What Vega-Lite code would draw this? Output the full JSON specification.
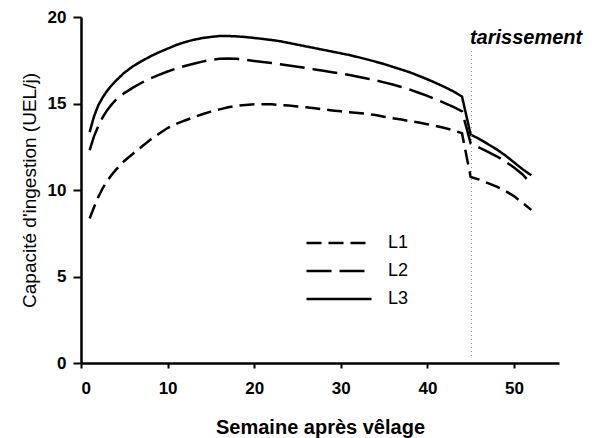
{
  "$schema": "https://vega.github.io/schema/vega-lite/v6.json",
  "width": 478,
  "height": 346,
  "autosize": {"type": "none"},
  "padding": {"left": 81, "top": 17, "right": 40, "bottom": 75},
  "background": "white",
  "config": {
    "view": {"stroke": null},
    "font": "Liberation Sans",
    "axis": {
      "domainColor": "black", "domainWidth": 2.5, "tickColor": "black", "tickWidth": 2,
      "labelFont": "Liberation Sans", "labelFontWeight": "bold", "labelFontSize": 17, "labelColor": "black",
      "titleFont": "Liberation Sans", "titleColor": "black", "titleFontSize": 19, "grid": false
    },
    "legend": {"labelFont": "Liberation Sans", "labelFontSize": 18, "labelColor": "black"}
  },
  "layer": [
    {
      "data": {"values": [
        {"week":1,"lact":"L1","v":8.35},{"week":1.5,"lact":"L1","v":9.0},{"week":2,"lact":"L1","v":9.6},{"week":2.5,"lact":"L1","v":10.1},{"week":3,"lact":"L1","v":10.5},{"week":3.5,"lact":"L1","v":10.85},{"week":4,"lact":"L1","v":11.15},{"week":5,"lact":"L1","v":11.68},{"week":6,"lact":"L1","v":12.1},{"week":7,"lact":"L1","v":12.5},{"week":8,"lact":"L1","v":12.9},{"week":9,"lact":"L1","v":13.25},{"week":10,"lact":"L1","v":13.58},{"week":11,"lact":"L1","v":13.82},{"week":12,"lact":"L1","v":14.02},{"week":13,"lact":"L1","v":14.2},{"week":14,"lact":"L1","v":14.38},{"week":15,"lact":"L1","v":14.53},{"week":16,"lact":"L1","v":14.66},{"week":17,"lact":"L1","v":14.78},{"week":18,"lact":"L1","v":14.87},{"week":19,"lact":"L1","v":14.92},{"week":20,"lact":"L1","v":14.95},{"week":21,"lact":"L1","v":14.96},{"week":22,"lact":"L1","v":14.95},{"week":23,"lact":"L1","v":14.92},{"week":24,"lact":"L1","v":14.88},{"week":25,"lact":"L1","v":14.83},{"week":26,"lact":"L1","v":14.78},{"week":27,"lact":"L1","v":14.72},{"week":28,"lact":"L1","v":14.66},{"week":29,"lact":"L1","v":14.6},{"week":30,"lact":"L1","v":14.55},{"week":31,"lact":"L1","v":14.5},{"week":32,"lact":"L1","v":14.45},{"week":33,"lact":"L1","v":14.4},{"week":34,"lact":"L1","v":14.33},{"week":35,"lact":"L1","v":14.24},{"week":36,"lact":"L1","v":14.15},{"week":37,"lact":"L1","v":14.07},{"week":38,"lact":"L1","v":13.98},{"week":39,"lact":"L1","v":13.9},{"week":40,"lact":"L1","v":13.8},{"week":41,"lact":"L1","v":13.7},{"week":42,"lact":"L1","v":13.58},{"week":43,"lact":"L1","v":13.45},{"week":44,"lact":"L1","v":13.28},{"week":45,"lact":"L1","v":10.75},{"week":46,"lact":"L1","v":10.6},{"week":47,"lact":"L1","v":10.4},{"week":48,"lact":"L1","v":10.2},{"week":49,"lact":"L1","v":9.95},{"week":50,"lact":"L1","v":9.65},{"week":51,"lact":"L1","v":9.25},{"week":52,"lact":"L1","v":8.85},
        {"week":1,"lact":"L2","v":12.3},{"week":1.5,"lact":"L2","v":13.1},{"week":2,"lact":"L2","v":13.7},{"week":2.5,"lact":"L2","v":14.2},{"week":3,"lact":"L2","v":14.6},{"week":3.5,"lact":"L2","v":14.92},{"week":4,"lact":"L2","v":15.2},{"week":5,"lact":"L2","v":15.6},{"week":6,"lact":"L2","v":15.92},{"week":7,"lact":"L2","v":16.2},{"week":8,"lact":"L2","v":16.45},{"week":9,"lact":"L2","v":16.65},{"week":10,"lact":"L2","v":16.85},{"week":11,"lact":"L2","v":17.02},{"week":12,"lact":"L2","v":17.17},{"week":13,"lact":"L2","v":17.3},{"week":14,"lact":"L2","v":17.42},{"week":15,"lact":"L2","v":17.52},{"week":16,"lact":"L2","v":17.58},{"week":17,"lact":"L2","v":17.6},{"week":18,"lact":"L2","v":17.58},{"week":19,"lact":"L2","v":17.52},{"week":20,"lact":"L2","v":17.46},{"week":21,"lact":"L2","v":17.4},{"week":22,"lact":"L2","v":17.34},{"week":23,"lact":"L2","v":17.27},{"week":24,"lact":"L2","v":17.2},{"week":25,"lact":"L2","v":17.13},{"week":26,"lact":"L2","v":17.05},{"week":27,"lact":"L2","v":16.97},{"week":28,"lact":"L2","v":16.89},{"week":29,"lact":"L2","v":16.81},{"week":30,"lact":"L2","v":16.73},{"week":31,"lact":"L2","v":16.65},{"week":32,"lact":"L2","v":16.55},{"week":33,"lact":"L2","v":16.45},{"week":34,"lact":"L2","v":16.35},{"week":35,"lact":"L2","v":16.22},{"week":36,"lact":"L2","v":16.1},{"week":37,"lact":"L2","v":15.95},{"week":38,"lact":"L2","v":15.8},{"week":39,"lact":"L2","v":15.62},{"week":40,"lact":"L2","v":15.44},{"week":41,"lact":"L2","v":15.24},{"week":42,"lact":"L2","v":15.02},{"week":43,"lact":"L2","v":14.8},{"week":44,"lact":"L2","v":14.55},{"week":45,"lact":"L2","v":12.7},{"week":46,"lact":"L2","v":12.45},{"week":47,"lact":"L2","v":12.2},{"week":48,"lact":"L2","v":11.95},{"week":49,"lact":"L2","v":11.65},{"week":50,"lact":"L2","v":11.3},{"week":51,"lact":"L2","v":10.9},{"week":52,"lact":"L2","v":10.35},
        {"week":1,"lact":"L3","v":13.35},{"week":1.5,"lact":"L3","v":14.25},{"week":2,"lact":"L3","v":14.9},{"week":2.5,"lact":"L3","v":15.35},{"week":3,"lact":"L3","v":15.72},{"week":3.5,"lact":"L3","v":16.03},{"week":4,"lact":"L3","v":16.3},{"week":5,"lact":"L3","v":16.78},{"week":6,"lact":"L3","v":17.15},{"week":7,"lact":"L3","v":17.45},{"week":8,"lact":"L3","v":17.72},{"week":9,"lact":"L3","v":17.96},{"week":10,"lact":"L3","v":18.17},{"week":11,"lact":"L3","v":18.38},{"week":12,"lact":"L3","v":18.55},{"week":13,"lact":"L3","v":18.68},{"week":14,"lact":"L3","v":18.78},{"week":15,"lact":"L3","v":18.85},{"week":16,"lact":"L3","v":18.9},{"week":17,"lact":"L3","v":18.9},{"week":18,"lact":"L3","v":18.88},{"week":19,"lact":"L3","v":18.84},{"week":20,"lact":"L3","v":18.79},{"week":21,"lact":"L3","v":18.73},{"week":22,"lact":"L3","v":18.67},{"week":23,"lact":"L3","v":18.6},{"week":24,"lact":"L3","v":18.5},{"week":25,"lact":"L3","v":18.4},{"week":26,"lact":"L3","v":18.3},{"week":27,"lact":"L3","v":18.2},{"week":28,"lact":"L3","v":18.1},{"week":29,"lact":"L3","v":18.0},{"week":30,"lact":"L3","v":17.9},{"week":31,"lact":"L3","v":17.8},{"week":32,"lact":"L3","v":17.68},{"week":33,"lact":"L3","v":17.55},{"week":34,"lact":"L3","v":17.42},{"week":35,"lact":"L3","v":17.28},{"week":36,"lact":"L3","v":17.12},{"week":37,"lact":"L3","v":16.96},{"week":38,"lact":"L3","v":16.8},{"week":39,"lact":"L3","v":16.6},{"week":40,"lact":"L3","v":16.4},{"week":41,"lact":"L3","v":16.18},{"week":42,"lact":"L3","v":15.95},{"week":43,"lact":"L3","v":15.7},{"week":44,"lact":"L3","v":15.4},{"week":45,"lact":"L3","v":13.2},{"week":46,"lact":"L3","v":12.95},{"week":47,"lact":"L3","v":12.65},{"week":48,"lact":"L3","v":12.35},{"week":49,"lact":"L3","v":12.0},{"week":50,"lact":"L3","v":11.6},{"week":51,"lact":"L3","v":11.2},{"week":52,"lact":"L3","v":10.85}
      ]},
      "mark": {"type": "line", "color": "black", "strokeWidth": 2.5},
      "encoding": {
        "x": {"field": "week", "type": "quantitative",
              "scale": {"domain": [0, 55.2], "nice": false, "zero": false},
              "axis": {"values": [0, 10, 20, 30, 40, 50], "title": "Semaine après vêlage", "titleFontWeight": "bold",
                       "titleFontSize": 20, "tickSize": 5, "labelPadding": 12, "titlePadding": 21}},
        "y": {"field": "v", "type": "quantitative",
              "scale": {"domain": [0, 20], "nice": false},
              "axis": {"values": [0, 5, 10, 15, 20], "title": "Capacité d'ingestion (UEL/j)", "titleFontWeight": "normal",
                       "tickSize": 8, "labelPadding": 7, "titlePadding": 8}},
        "strokeDash": {"field": "lact", "type": "nominal",
              "scale": {"domain": ["L1", "L2", "L3"], "range": [[15, 7], [25, 8], [1, 0]]},
              "legend": {"title": null, "orient": "none", "legendX": 224, "legendY": 212,
                         "symbolType": "stroke", "symbolSize": 4225, "symbolStrokeWidth": 2.5,
                         "symbolStrokeColor": "black", "clipHeight": 28, "rowPadding": 0, "labelOffset": 15}},
        "detail": {"field": "lact"}
      }
    },
    {
      "data": {"values": [{"note": "tarissement"}]},
      "mark": {"type": "rule", "color": "#888888", "strokeWidth": 1, "strokeDash": [1, 3]},
      "encoding": {"x": {"datum": 45.1}, "y": {"datum": 0.4}, "y2": {"datum": 18.1}}
    },
    {
      "data": {"values": [{"note": "tarissement"}]},
      "mark": {"type": "text", "font": "Liberation Sans", "fontSize": 20, "fontWeight": "bold", "fontStyle": "italic",
               "color": "black", "align": "center", "baseline": "alphabetic"},
      "encoding": {"x": {"datum": 51.4}, "y": {"datum": 18.45}, "text": {"field": "note"}}
    }
  ]
}
